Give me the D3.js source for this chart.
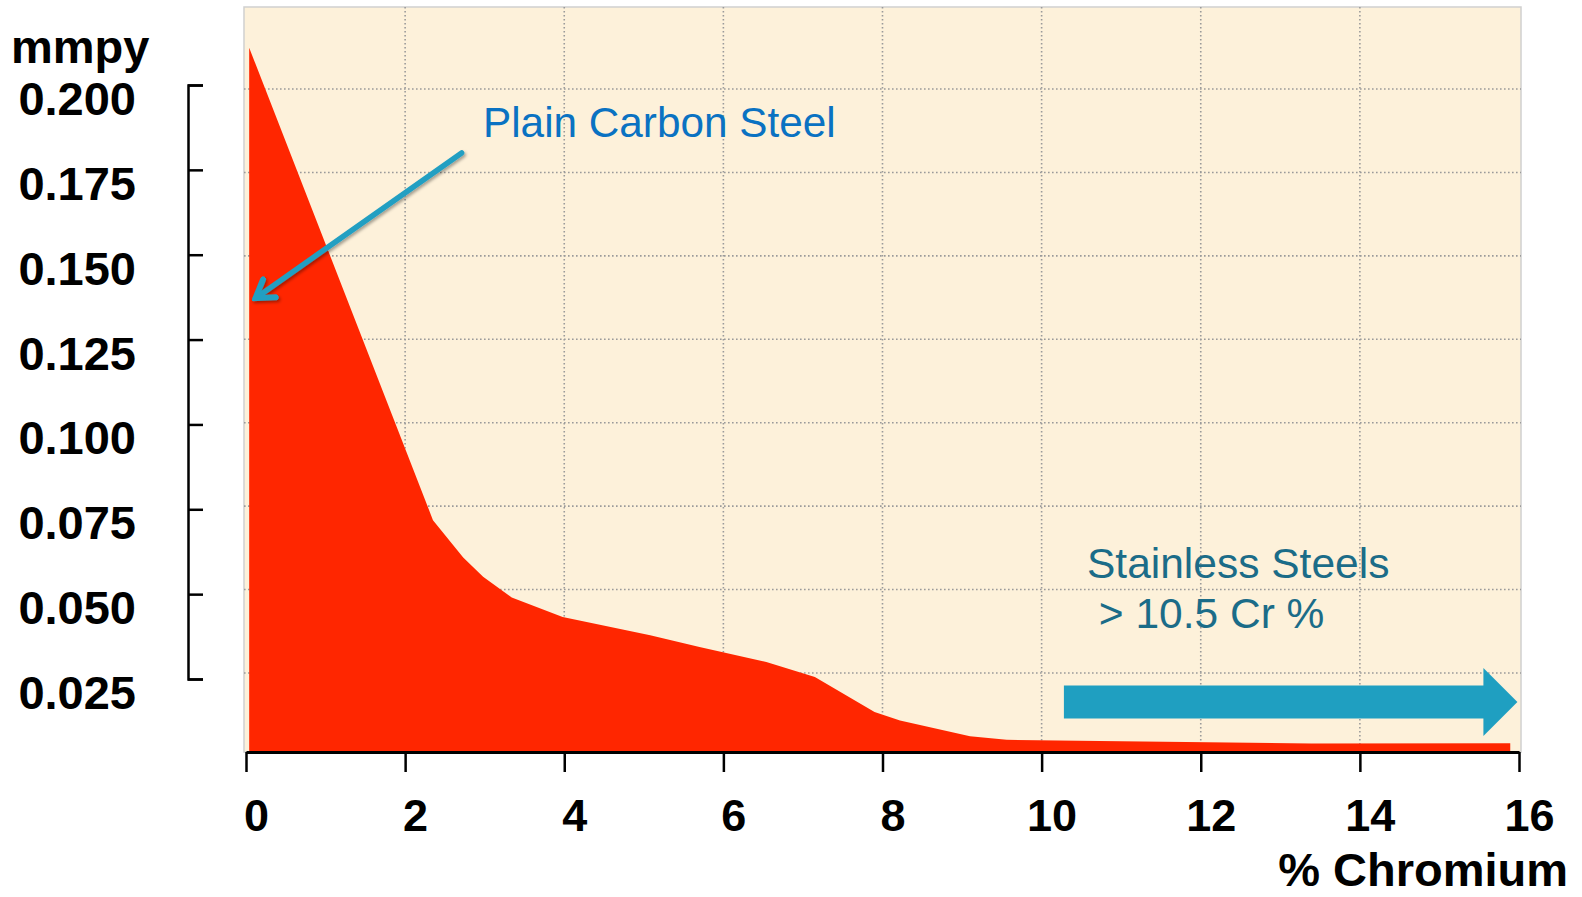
<!DOCTYPE html>
<html>
<head>
<meta charset="utf-8">
<script src="https://cdn.jsdelivr.net/npm/d3@7"></script>
<style>
  html, body { margin: 0; padding: 0; background: #fff; }
  svg { display: block; font-family: "Liberation Sans", Arial, sans-serif; }
</style>
</head>
<body>
<svg id="chart" width="1582" height="897"></svg>
<script>
// corrosion rate vs chromium content
const chromium = [0.04, 2.35, 2.73, 2.98, 3.34, 3.98, 5.08, 5.70, 6.54, 7.15, 7.90, 8.22, 9.10, 9.56, 10.73, 13.39, 15.89];
const mmpy     = [0.211, 0.0718, 0.0608, 0.0551, 0.0490, 0.0433, 0.0379, 0.0344, 0.0300, 0.0256, 0.0153, 0.0128, 0.0081, 0.0071, 0.0067, 0.0060, 0.0061];

const xTicks = [0, 2, 4, 6, 8, 10, 12, 14, 16];
const yTicks = [0.025, 0.050, 0.075, 0.100, 0.125, 0.150, 0.175, 0.200];

const data = chromium.map((c, i) => ({ c: c, v: mmpy[i] }));

const svg = d3.select('#chart');

// plot box
const LEFT = 244, RIGHT = 1521, TOP = 7, BOTTOM = 752;

const x = d3.scaleLinear().domain([0, 16]).range([246, 1519]);
const y = d3.scaleLinear().domain([0.025, 0.2]).range([679, 85]);
// the gridlines in the picture sit a little off the bracket ticks
const yGrid = d3.scaleLinear().domain([0.025, 0.2]).range([673, 89]);

const defs = svg.append('defs');

// faint parchment texture
let tex = defs.append('filter').attr('id', 'paper')
  .attr('x', 0).attr('y', 0).attr('width', '100%').attr('height', '100%');
tex.append('feTurbulence').attr('type', 'fractalNoise')
  .attr('baseFrequency', 0.012).attr('numOctaves', 3).attr('seed', 4).attr('result', 'n');
tex.append('feColorMatrix').attr('in', 'n').attr('type', 'matrix')
  .attr('values', '0 0 0 0 0.95  0 0 0 0 0.88  0 0 0 0 0.72  0 0 0 0.16 -0.05');

let shadow = defs.append('filter').attr('id', 'shadow')
  .attr('x', '-20%').attr('y', '-20%').attr('width', '140%').attr('height', '140%');
shadow.append('feDropShadow').attr('dx', 1.5).attr('dy', 2).attr('stdDeviation', 1.5)
  .attr('flood-color', '#000').attr('flood-opacity', 0.35);

defs.append('marker')
  .attr('id', 'chev')
  .attr('viewBox', '-20 -14 24 28')
  .attr('refX', 0).attr('refY', 0)
  .attr('markerWidth', 24).attr('markerHeight', 28)
  .attr('markerUnits', 'userSpaceOnUse')
  .attr('orient', 'auto')
  .append('path')
  .attr('d', 'M-17,-11 L0,0 L-17,11')
  .attr('fill', 'none')
  .attr('stroke', '#219fc2')
  .attr('stroke-width', 6)
  .attr('stroke-linecap', 'round')
  .attr('stroke-linejoin', 'miter');

// background
svg.append('rect')
  .attr('x', LEFT).attr('y', TOP)
  .attr('width', RIGHT - LEFT).attr('height', BOTTOM - TOP)
  .attr('fill', '#fdf1da')
  .attr('stroke', '#cfcfcf')
  .attr('stroke-width', 1.5);
svg.append('rect')
  .attr('x', LEFT).attr('y', TOP)
  .attr('width', RIGHT - LEFT).attr('height', BOTTOM - TOP)
  .attr('filter', 'url(#paper)');

// dotted grid
let grid = svg.append('g').attr('class', 'grid')
  .attr('stroke', '#9a9a9a')
  .attr('stroke-width', 1.6)
  .attr('stroke-dasharray', '1.6,2.4');

grid.selectAll('.vgrid')
  .data(xTicks.filter(d => d > 0 && d < 16))
  .enter()
  .append('line')
  .attr('x1', d => x(d)).attr('x2', d => x(d))
  .attr('y1', TOP).attr('y2', BOTTOM);

grid.selectAll('.hgrid')
  .data(yTicks)
  .enter()
  .append('line')
  .attr('x1', LEFT).attr('x2', RIGHT)
  .attr('y1', d => yGrid(d)).attr('y2', d => yGrid(d));

// red area
let area = d3.area()
  .x(d => x(d.c))
  .y0(BOTTOM)
  .y1(d => y(d.v));

svg.append('path')
  .datum(data)
  .attr('d', area)
  .attr('fill', '#ff2600');

// x axis
let xAxis = d3.axisBottom(x)
  .tickValues(xTicks)
  .tickSize(20)
  .tickSizeOuter(0)
  .tickPadding(27)
  .tickFormat(d3.format('d'));

let gx = svg.append('g')
  .attr('transform', `translate(0,${BOTTOM})`)
  .call(xAxis);
gx.select('.domain').attr('stroke', '#000').attr('stroke-width', 3);
gx.selectAll('.tick line').attr('stroke', '#000').attr('stroke-width', 2.5);
gx.selectAll('.tick text')
  .attr('fill', '#000')
  .attr('font-size', 45)
  .attr('font-weight', 'bold')
  .attr('font-family', '"Liberation Sans", Arial, sans-serif')
  .attr('dx', 10);

svg.append('text')
  .attr('x', 1568).attr('y', 886)
  .attr('text-anchor', 'end')
  .attr('font-size', 47)
  .attr('font-weight', 'bold')
  .text('% Chromium');

// y axis bracket
let yAxis = d3.axisRight(y)
  .tickValues(yTicks)
  .tickSize(15)
  .tickSizeOuter(15)
  .tickFormat('');

let gy = svg.append('g')
  .attr('transform', 'translate(188,0)')
  .call(yAxis);
gy.select('.domain').attr('stroke', '#000').attr('stroke-width', 2.5).attr('fill', 'none');
gy.selectAll('.tick line').attr('stroke', '#000').attr('stroke-width', 2.5);

svg.append('g').selectAll('text')
  .data(yTicks)
  .enter()
  .append('text')
  .attr('x', 136)
  .attr('y', d => y(d) + 30)
  .attr('text-anchor', 'end')
  .attr('font-size', 47)
  .attr('font-weight', 'bold')
  .text(d => d3.format('.3f')(d));

svg.append('text')
  .attr('x', 11).attr('y', 63)
  .attr('font-size', 47)
  .attr('font-weight', 'bold')
  .text('mmpy');

// annotations
svg.append('text')
  .attr('x', 483).attr('y', 137)
  .attr('font-size', 42.3)
  .attr('fill', '#0a72c2')
  .text('Plain Carbon Steel');

svg.append('line')
  .attr('x1', x(2.71)).attr('y1', y(0.180))
  .attr('x2', x(0.12)).attr('y2', y(0.1372))
  .attr('stroke', '#219fc2')
  .attr('stroke-width', 5.5)
  .attr('stroke-linecap', 'round')
  .attr('marker-end', 'url(#chev)')
  .attr('filter', 'url(#shadow)');

let stain = svg.append('text')
  .attr('font-size', 42.5)
  .attr('fill', '#1b6c88');
stain.append('tspan').attr('x', 1087).attr('y', 578).text('Stainless Steels');
stain.append('tspan').attr('x', 1087).attr('y', 628).text('\u00a0> 10.5 Cr %');

// big block arrow
const arrowFrom = 10.28, arrowTo = 15.98, arrowY = 0.0182;
const ax0 = x(arrowFrom), ax1 = x(arrowTo), ay = y(arrowY);
const bodyHalf = 16.5, headHalf = 34, headLen = 34;
svg.append('path')
  .attr('d', d3.line()([
    [ax0, ay - bodyHalf],
    [ax1 - headLen, ay - bodyHalf],
    [ax1 - headLen, ay - headHalf],
    [ax1, ay],
    [ax1 - headLen, ay + headHalf],
    [ax1 - headLen, ay + bodyHalf],
    [ax0, ay + bodyHalf]
  ]) + 'Z')
  .attr('fill', '#1f9fc1');
</script>
</body>
</html>
